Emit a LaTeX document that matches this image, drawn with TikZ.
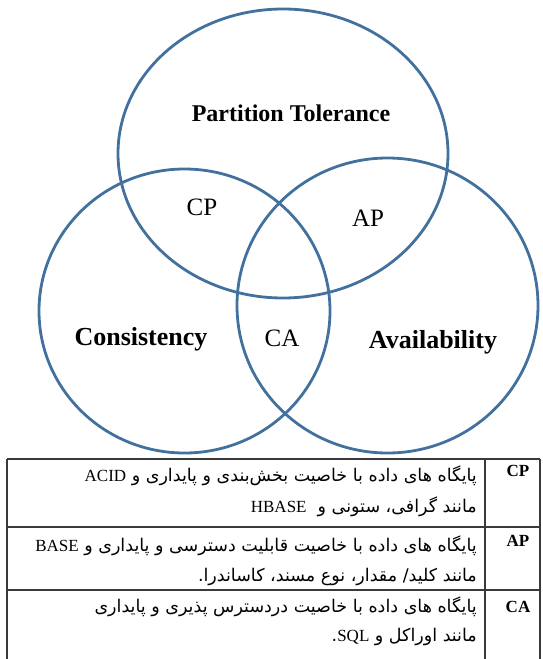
\documentclass[tikz,border=0pt]{standalone}
\usepackage{fontspec}
\setmainfont{Liberation Serif}
\newfontfamily\arabicfont[Script=Arabic]{DejaVu Sans}
\TeXXeTstate=1
\definecolor{vennblue}{HTML}{41719C}
\definecolor{tablegray}{HTML}{3A3A3A}
\newcommand\lat[1]{\beginL{\rmfamily\fontsize{17}{20}\selectfont #1}\endL}
\tikzset{
  venn/.style={draw=vennblue, line width=2.8pt},
  biglabel/.style={font=\bfseries\fontsize{26}{30}\selectfont, inner sep=0pt},
  toplabel/.style={font=\bfseries\fontsize{24}{28}\selectfont, inner sep=0pt},
  pairlabel/.style={font=\fontsize{25}{29}\selectfont, inner sep=0pt},
  rule/.style={draw=tablegray, line width=1.2pt},
  keylabel/.style={font=\bfseries\fontsize{17}{20}\selectfont, inner sep=0pt},
  fatext/.style={font=\arabicfont\fontsize{17.5}{22}\selectfont, inner sep=0pt, anchor=east}
}
\begin{document}
\begin{tikzpicture}[x=1pt,y=-1pt]
\useasboundingbox (0,0) rectangle (542,659);
% Venn ellipses
\draw[venn] (283,153.5) ellipse [x radius=165, y radius=144.5];
\draw[venn] (184.5,311) ellipse [x radius=145.5, y radius=142];
\draw[venn] (387.5,305.5) ellipse [x radius=150.5, y radius=147.5];
% labels
\node[toplabel] (pt) at (291,113) {Partition Tolerance};
\node[biglabel] (cons) at (141,339) {Consistency};
\node[biglabel] (avail) at (433,342) {Availability};
\node[pairlabel] (cp) at (202,207) {CP};
\node[pairlabel] (ap) at (368,218) {AP};
\node[pairlabel] (ca) at (282,338) {CA};
% table
\coordinate (tl) at (7,459);
\coordinate (tr) at (540,459);
\coordinate (bl) at (7,659);
\coordinate (br) at (540,659);
\coordinate (dt) at (485,459);
\coordinate (db) at (485,659);
\coordinate (r1l) at (7,527);
\coordinate (r1r) at (540,527);
\coordinate (r2l) at (7,590);
\coordinate (r2r) at (540,590);
\draw[rule] (tl) -- (tr);
\draw[rule] (tl) -- (bl);
\draw[rule] (tr) -- (br);
\draw[rule] (dt) -- (db);
\draw[rule] (r1l) -- (r1r);
\draw[rule] (r2l) -- (r2r);
\node[keylabel] (kcp) at (518,471) {CP};
\node[keylabel] (kap) at (518,541) {AP};
\node[keylabel] (kca) at (518,607) {CA};
\node[fatext] (t11) at (477,476) {\beginR پایگاه های داده با خاصیت بخش‌بندی و پایداری و \lat{ACID}\endR};
\node[fatext] (t12) at (477,507) {\beginR مانند گرافی، ستونی و \ \lat{HBASE}\endR};
\node[fatext] (t21) at (477,546) {\beginR پایگاه های داده با خاصیت قابلیت دسترسی و پایداری و \lat{BASE}\endR};
\node[fatext] (t22) at (477,577) {\beginR مانند کلید/ مقدار، نوع مسند، کاساندرا.\endR};
\node[fatext] (t31) at (477,607) {\beginR پایگاه های داده با خاصیت دردسترس پذیری و پایداری\endR};
\node[fatext] (t32) at (477,637) {\beginR مانند اوراکل و \lat{SQL}.\endR};
\end{tikzpicture}
\end{document}
